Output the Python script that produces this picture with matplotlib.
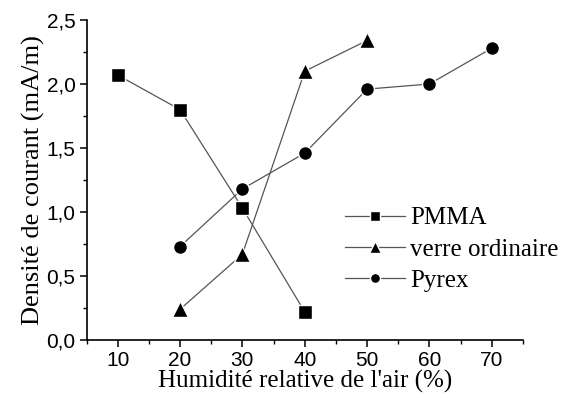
import matplotlib
matplotlib.use("Agg")
import matplotlib.pyplot as plt
from matplotlib.ticker import MultipleLocator, FuncFormatter

pmma_x = [10, 20, 30, 40]
pmma_y = [2.07, 1.80, 1.03, 0.22]
verre_x = [20, 30, 40, 50]
verre_y = [0.24, 0.67, 2.10, 2.34]
pyrex_x = [20, 30, 40, 50, 60, 70]
pyrex_y = [0.73, 1.18, 1.46, 1.96, 2.00, 2.28]
labels = ["PMMA", "verre ordinaire", "Pyrex"]

W, H = 562, 396
fig = plt.figure(figsize=(W / 100, H / 100), dpi=100)
ax = fig.add_axes([86.5 / W, 1 - 340 / H, (523 - 86.5) / W, (340 - 20) / H])

lc = "#555555"
common = dict(color=lc, lw=0.9, mfc='black', mec='white', mew=1.0)
ax.plot(pmma_x, pmma_y, '-', marker='s', ms=9.5, label=labels[0], **common)
ax.plot(verre_x, verre_y, '-', marker='^', ms=11.5, label=labels[1], **common)
ax.plot(pyrex_x, pyrex_y, '-', marker='o', ms=10, label=labels[2], **common)

ax.set_xlim(5, 75)
ax.set_ylim(0, 2.5)
for s in ['top', 'right']:
    ax.spines[s].set_visible(False)
for s in ['left', 'bottom']:
    ax.spines[s].set_linewidth(1.2)

ax.xaxis.set_major_locator(MultipleLocator(10))
ax.xaxis.set_minor_locator(MultipleLocator(5))
ax.yaxis.set_major_locator(MultipleLocator(0.5))
ax.yaxis.set_minor_locator(MultipleLocator(0.25))
ax.yaxis.set_major_formatter(FuncFormatter(lambda v, p: f"{v:.1f}".replace('.', ',')))
ax.tick_params(which='major', direction='out', length=5, width=1.1, labelsize=15, pad=3)
ax.tick_params(which='minor', direction='out', length=3, width=1.0)
for t in ax.get_xticklabels() + ax.get_yticklabels():
    t.set_fontfamily('Liberation Sans')

ax.set_xlabel("Humidité relative de l'air (%)", family='Liberation Serif', fontsize=18, labelpad=0)
ax.set_ylabel("Densité de courant (mA/m)", family='Liberation Serif', fontsize=19, labelpad=1)

leg = ax.legend(loc='upper left', bbox_to_anchor=(345 / W, 1 - 207 / H), bbox_transform=fig.transFigure,
                frameon=False, prop={'family': 'Liberation Serif', 'size': 18}, handlelength=2.4,
                handletextpad=0.2, labelspacing=0.34, borderpad=0, borderaxespad=0, markerscale=0.72)

fig.savefig("out.png", dpi=100)
